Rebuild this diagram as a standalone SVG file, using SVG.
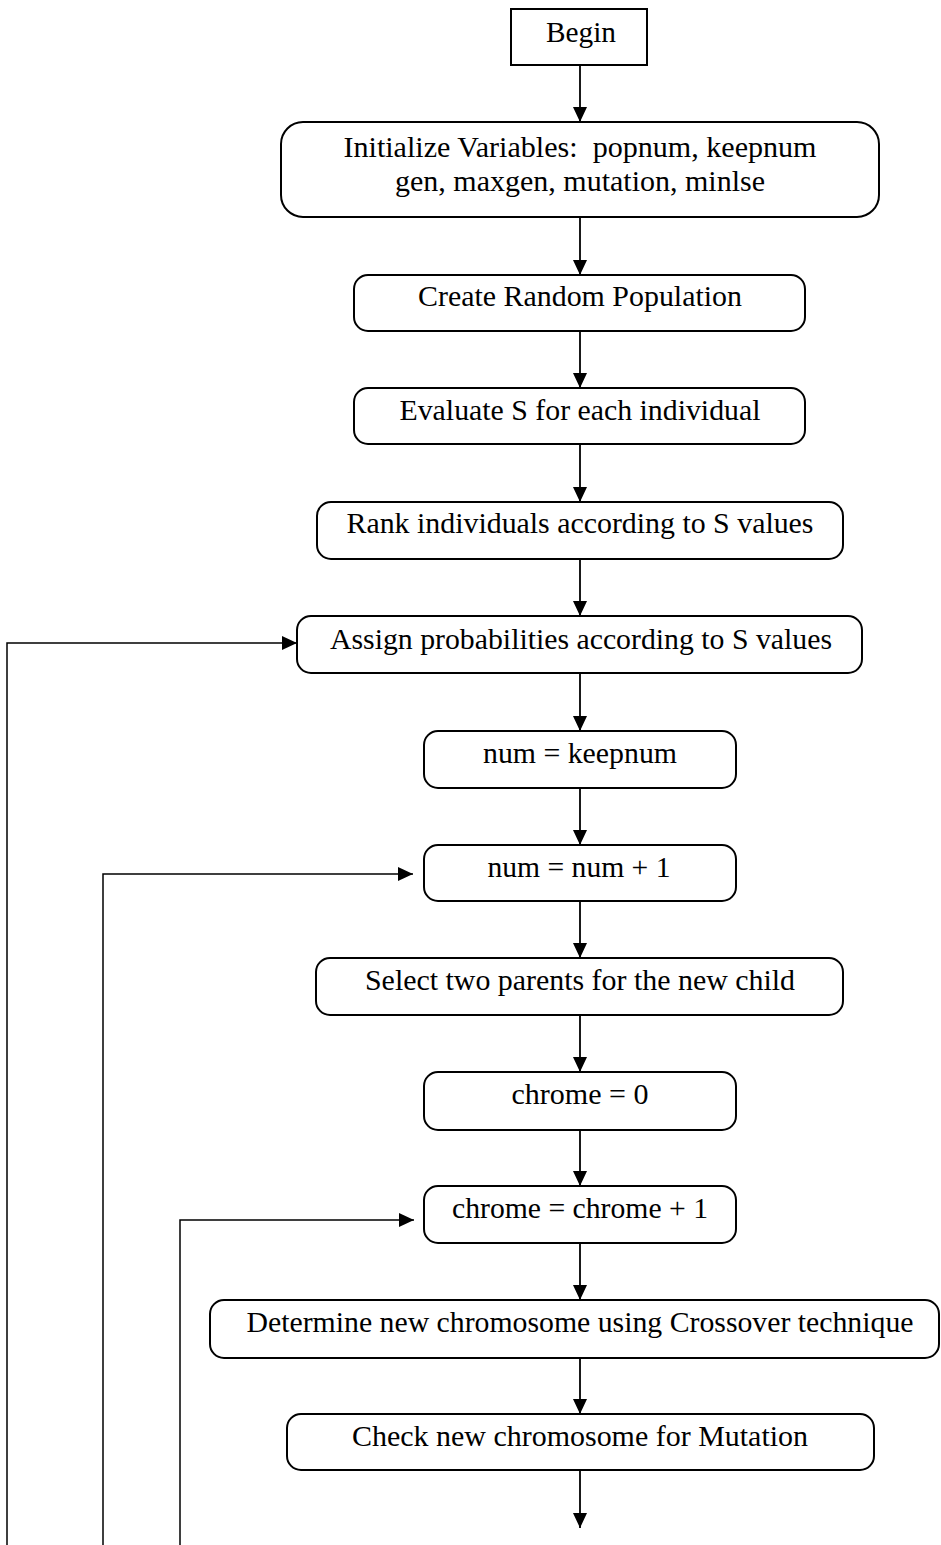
<svg xmlns="http://www.w3.org/2000/svg" width="941" height="1545" viewBox="0 0 941 1545">
<style>
.box{fill:#fff;stroke:#000;stroke-width:2}
.t{font-family:"Liberation Serif","Times New Roman",serif;font-size:29px;fill:#000;text-anchor:middle}
.c{fill:none;stroke:#000;stroke-width:1.8}
.l{fill:none;stroke:#000;stroke-width:1.5}
</style>
<defs>
<marker id="ah" markerUnits="userSpaceOnUse" markerWidth="16" markerHeight="14" refX="15" refY="7" orient="auto">
<path d="M0,0 L15,7 L0,14 Z" fill="#000"/>
</marker>
</defs>
<rect width="941" height="1545" fill="#fff"/>
<g id="connectors">
<line class="c" x1="580" y1="65" x2="580" y2="122" marker-end="url(#ah)"/>
<line class="c" x1="580" y1="217" x2="580" y2="275" marker-end="url(#ah)"/>
<line class="c" x1="580" y1="331" x2="580" y2="388" marker-end="url(#ah)"/>
<line class="c" x1="580" y1="444" x2="580" y2="502" marker-end="url(#ah)"/>
<line class="c" x1="580" y1="559" x2="580" y2="616" marker-end="url(#ah)"/>
<line class="c" x1="580" y1="673" x2="580" y2="731" marker-end="url(#ah)"/>
<line class="c" x1="580" y1="788" x2="580" y2="845" marker-end="url(#ah)"/>
<line class="c" x1="580" y1="901" x2="580" y2="958" marker-end="url(#ah)"/>
<line class="c" x1="580" y1="1015" x2="580" y2="1072" marker-end="url(#ah)"/>
<line class="c" x1="580" y1="1130" x2="580" y2="1186" marker-end="url(#ah)"/>
<line class="c" x1="580" y1="1243" x2="580" y2="1300" marker-end="url(#ah)"/>
<line class="c" x1="580" y1="1358" x2="580" y2="1414" marker-end="url(#ah)"/>
<line class="c" x1="580" y1="1470" x2="580" y2="1528" marker-end="url(#ah)"/>
<polyline class="l" points="7,1545 7,643 297,643" marker-end="url(#ah)"/>
<polyline class="l" points="103,1545 103,874 413,874" marker-end="url(#ah)"/>
<polyline class="l" points="180,1545 180,1220 414,1220" marker-end="url(#ah)"/>
</g>
<g id="begin">
<rect class="box" x="511" y="9" width="136" height="56"/>
<text class="t" x="581" y="42" textLength="70" lengthAdjust="spacingAndGlyphs">Begin</text>
</g>
<g id="init">
<rect class="box" x="281" y="122" width="598" height="95" rx="22"/>
<text class="t" x="580" y="157" textLength="473" lengthAdjust="spacingAndGlyphs" xml:space="preserve">Initialize Variables:  popnum, keepnum</text>
<text class="t" x="580" y="191" textLength="370" lengthAdjust="spacingAndGlyphs">gen, maxgen, mutation, minlse</text>
</g>
<g id="create">
<rect class="box" x="354" y="275" width="451" height="56" rx="14"/>
<text class="t" x="580" y="306" textLength="324" lengthAdjust="spacingAndGlyphs">Create Random Population</text>
</g>
<g id="evaluate">
<rect class="box" x="354" y="388" width="451" height="56" rx="14"/>
<text class="t" x="580" y="420" textLength="361" lengthAdjust="spacingAndGlyphs">Evaluate S for each individual</text>
</g>
<g id="rank">
<rect class="box" x="317" y="502" width="526" height="57" rx="14"/>
<text class="t" x="580" y="533" textLength="467" lengthAdjust="spacingAndGlyphs">Rank individuals according to S values</text>
</g>
<g id="assign">
<rect class="box" x="297" y="616" width="565" height="57" rx="14"/>
<text class="t" x="581" y="649" textLength="502" lengthAdjust="spacingAndGlyphs">Assign probabilities according to S values</text>
</g>
<g id="numkeep">
<rect class="box" x="424" y="731" width="312" height="57" rx="14"/>
<text class="t" x="580" y="763" textLength="194" lengthAdjust="spacingAndGlyphs">num = keepnum</text>
</g>
<g id="numinc">
<rect class="box" x="424" y="845" width="312" height="56" rx="14"/>
<text class="t" x="579" y="877" textLength="183" lengthAdjust="spacingAndGlyphs">num = num + 1</text>
</g>
<g id="select">
<rect class="box" x="316" y="958" width="527" height="57" rx="14"/>
<text class="t" x="580" y="990" textLength="430" lengthAdjust="spacingAndGlyphs">Select two parents for the new child</text>
</g>
<g id="chrome0">
<rect class="box" x="424" y="1072" width="312" height="58" rx="14"/>
<text class="t" x="580" y="1104" textLength="137" lengthAdjust="spacingAndGlyphs">chrome = 0</text>
</g>
<g id="chromeinc">
<rect class="box" x="424" y="1186" width="312" height="57" rx="14"/>
<text class="t" x="580" y="1218" textLength="256" lengthAdjust="spacingAndGlyphs">chrome = chrome + 1</text>
</g>
<g id="crossover">
<rect class="box" x="210" y="1300" width="729" height="58" rx="14"/>
<text class="t" x="580" y="1332" textLength="667" lengthAdjust="spacingAndGlyphs">Determine new chromosome using Crossover technique</text>
</g>
<g id="mutation">
<rect class="box" x="287" y="1414" width="587" height="56" rx="14"/>
<text class="t" x="580" y="1446" textLength="456" lengthAdjust="spacingAndGlyphs">Check new chromosome for Mutation</text>
</g>
</svg>
